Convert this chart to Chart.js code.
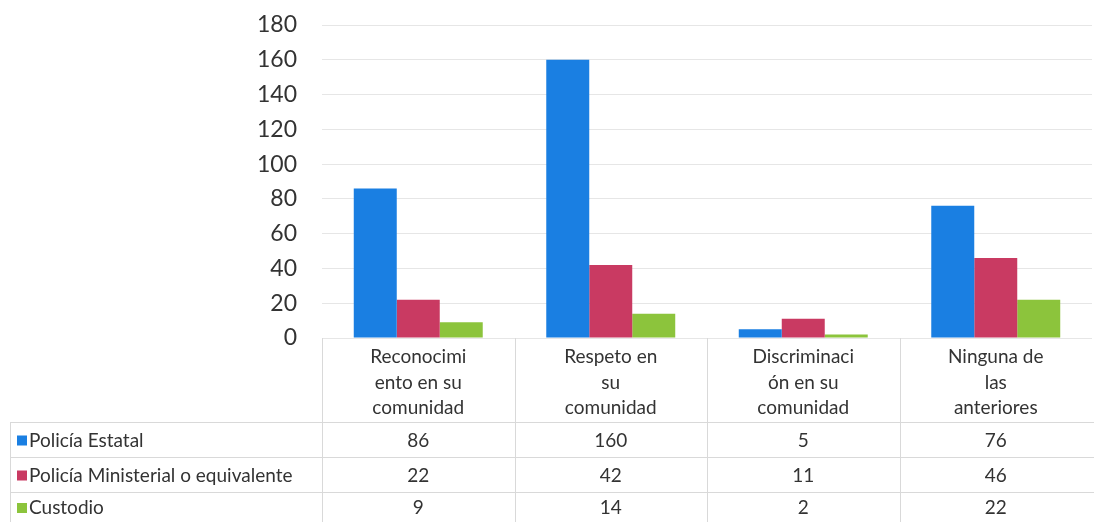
<!DOCTYPE html>
<html>
<head>
<meta charset="utf-8">
<script src="https://cdn.jsdelivr.net/npm/chart.js@4/dist/chart.umd.min.js"></script>
<style>
  html, body { margin: 0; padding: 0; background: #fff; }
  #wrap { width: 1094px; height: 522px; position: relative; }
</style>
</head>
<body>
<div id="wrap"><canvas id="chart"></canvas></div>
<script>
// --- Data ---
const categories = [
    ['Reconocimi', 'ento en su', 'comunidad'],
    ['Respeto en', 'su', 'comunidad'],
    ['Discriminaci', 'ón en su', 'comunidad'],
    ['Ninguna de', 'las', 'anteriores']
];
const seriesNames = ['Policía Estatal', 'Policía Ministerial o equivalente', 'Custodio'];
const policiaEstatal = [86, 160, 5, 76];
const policiaMinisterial = [22, 42, 11, 46];
const custodio = [9, 14, 2, 22];
const yTicks = [0, 20, 40, 60, 80, 100, 120, 140, 160, 180];

const colors = ['#1a7fe2', '#c93a62', '#8cc43c'];
const FONT = 'Lato, "Open Sans", sans-serif';

// --- Data table drawn under the plot, aligned to the x scale ---
const dataTable = {
    id: 'dataTable',
    afterDraw(chart) {
        const { ctx, chartArea, scales: { x } } = chart;
        const half = (x.getPixelForValue(1) - x.getPixelForValue(0)) / 2;
        const top = chartArea.bottom;
        const rows = [422, 457, 492, 522];
        const tableLeft = 10;
        ctx.save();
        ctx.strokeStyle = '#d9d9d9';
        ctx.lineWidth = 1;

        // horizontal lines
        rows.slice(0, 3).forEach(y => {
            ctx.beginPath();
            ctx.moveTo(tableLeft, y + 0.5);
            ctx.lineTo(chart.width, y + 0.5);
            ctx.stroke();
        });
        // vertical lines
        const xs = [];
        categories.forEach((c, i) => xs.push(Math.round(x.getPixelForValue(i) - half)));
        xs.forEach(px => {
            ctx.beginPath();
            ctx.moveTo(px + 0.5, top);
            ctx.lineTo(px + 0.5, chart.height);
            ctx.stroke();
        });
        ctx.beginPath();
        ctx.moveTo(tableLeft + 0.5, rows[0]);
        ctx.lineTo(tableLeft + 0.5, chart.height);
        ctx.stroke();

        ctx.fillStyle = '#333';
        ctx.font = '19px ' + FONT;
        ctx.textAlign = 'center';
        ctx.textBaseline = 'middle';

        // header
        categories.forEach((lines, i) => {
            const cx = x.getPixelForValue(i);
            lines.forEach((t, j) => ctx.fillText(t, cx, 357 + j * 25.5));
        });

        // rows
        const seriesData = [policiaEstatal, policiaMinisterial, custodio];
        seriesData.forEach((vals, r) => {
            const cy = (rows[r] + rows[r + 1]) / 2 + 1;
            vals.forEach((v, i) => {
                ctx.textAlign = 'center';
                ctx.fillStyle = '#333';
                ctx.fillText(String(v), x.getPixelForValue(i), cy);
            });
            ctx.fillStyle = colors[r];
            ctx.fillRect(17, cy - 5, 10, 10);
            ctx.fillStyle = '#333';
            ctx.textAlign = 'left';
            ctx.fillText(seriesNames[r], 29, cy);
        });
        ctx.restore();
    }
};

const ctx = document.getElementById('chart').getContext('2d');
new Chart(ctx, {
    type: 'bar',
    data: {
        labels: categories,
        datasets: [
            { label: seriesNames[0], data: policiaEstatal, backgroundColor: colors[0] },
            { label: seriesNames[1], data: policiaMinisterial, backgroundColor: colors[1] },
            { label: seriesNames[2], data: custodio, backgroundColor: colors[2] }
        ]
    },
    options: {
        responsive: true,
        maintainAspectRatio: false,
        animation: false,
        layout: { autoPadding: false, padding: { top: 25, bottom: 184, right: 2, left: 0 } },
        datasets: { bar: { categoryPercentage: 0.67, barPercentage: 1 } },
        plugins: { legend: { display: false }, tooltip: { enabled: false } },
        scales: {
            x: { display: false },
            y: {
                min: 0,
                max: 180,
                afterBuildTicks: (scale) => { scale.ticks = yTicks.map(v => ({ value: v })); },
                afterFit: (scale) => {
                    scale.width = 322;
                    scale.paddingTop = 0;
                    scale.paddingBottom = 0;
                },
                border: { display: false },
                grid: { color: '#e6e6e6', drawTicks: false },
                ticks: { color: '#333', padding: 25, font: { family: FONT, size: 23 } }
            }
        }
    },
    plugins: [dataTable]
});
</script>
</body>
</html>
